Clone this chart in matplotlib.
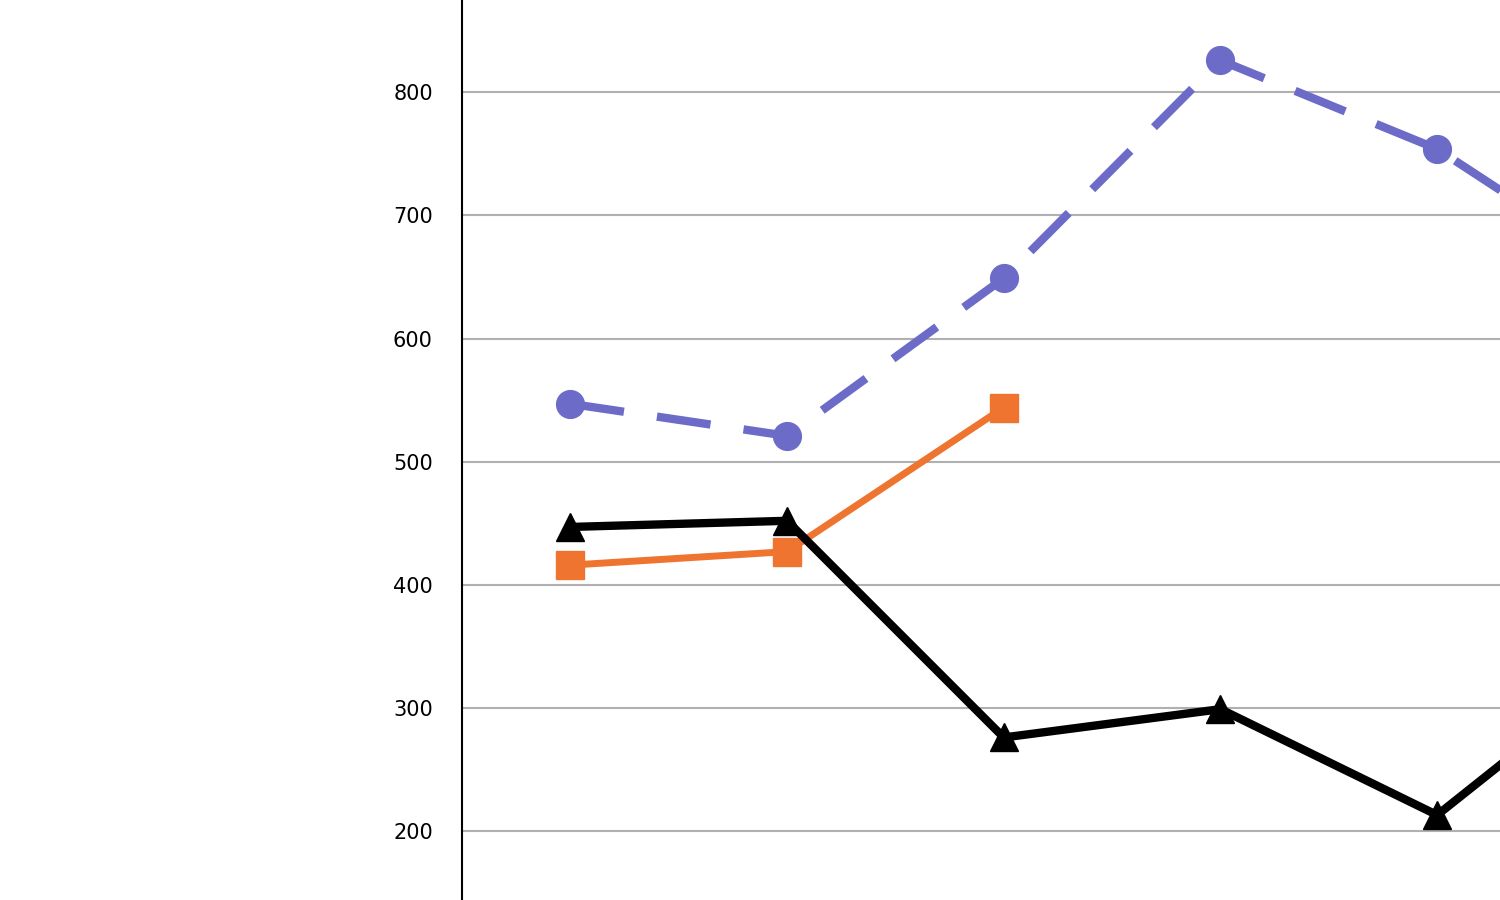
import matplotlib.pyplot as plt

x = [0, 1, 2, 3, 4, 5]
blue = [547, 521, 649, 826, 754, 639]
orange = [416, 427, 544]
black = [447, 452, 276, 299, 213, 353]
yticks = [200, 300, 400, 500, 600, 700, 800]

fig = plt.figure(figsize=(15, 9), dpi=100)
ax = fig.add_axes([462 / 1500, 0, 1 - 462 / 1500, 1])

ax.plot(x, blue, color="#6c6cc8", lw=6, ls=(0, (6.5, 4)), marker="o", ms=20, zorder=3)
ax.plot(x[:3], orange, color="#ee7430", lw=5, marker="s", ms=20, zorder=4)
ax.plot(x, black, color="black", lw=6, marker="^", ms=20, zorder=5)

ax.set_xlim(-0.5, 4.29)
ax.set_ylim(144, 875)
ax.set_yticks(yticks)
ax.set_xticks([])
ax.grid(axis="y", color="#b0b0b0", lw=1.5)
ax.tick_params(axis="y", length=0, pad=21, labelsize=15)
for s in ("top", "right", "bottom"):
    ax.spines[s].set_visible(False)
ax.spines["left"].set_linewidth(1.5)

fig.savefig("out.png", dpi=100)
